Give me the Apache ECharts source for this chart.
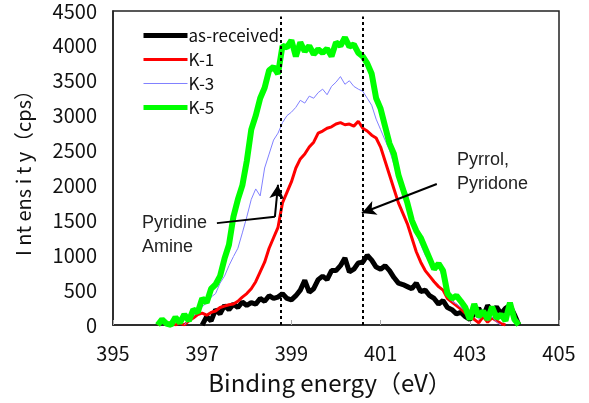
<!DOCTYPE html>
<html>
<head>
<meta charset="utf-8">
<script src="https://cdn.jsdelivr.net/npm/echarts@6/dist/echarts.min.js"></script>
<style>
  html, body { margin: 0; padding: 0; background: #fff; }
  #chart { width: 589px; height: 403px; }
</style>
</head>
<body>
<div id="chart"></div>
<script>
const energy = [
  396.0, 396.1, 396.2, 396.3, 396.4, 396.5, 396.6, 396.7, 396.8, 396.9,
  397.0, 397.1, 397.2, 397.3, 397.4, 397.5, 397.6, 397.7, 397.8, 397.9,
  398.0, 398.1, 398.2, 398.3, 398.4, 398.5, 398.6, 398.7, 398.8, 398.9,
  399.0, 399.1, 399.2, 399.3, 399.4, 399.5, 399.6, 399.7, 399.8, 399.9,
  400.0, 400.1, 400.2, 400.3, 400.4, 400.5, 400.6, 400.7, 400.8, 400.9,
  401.0, 401.1, 401.2, 401.3, 401.4, 401.5, 401.6, 401.7, 401.8, 401.9,
  402.0, 402.1, 402.2, 402.3, 402.4, 402.5, 402.6, 402.7, 402.8, 402.9,
  403.0, 403.1, 403.2, 403.3, 403.4, 403.5, 403.6, 403.7, 403.8, 403.9,
  404.0, 404.1
]

const asReceived = [
  null, null, null, null, null, null, null, null, null, null,
  0, 120, 60, 220, 160, 280, 220, 300, 250, 330,
  280, 320, 300, 380, 340, 420, 380, 400, 450, 380,
  360, 420, 500, 640, 470, 520, 650, 700, 650, 780,
  780, 850, 960, 760, 800, 890, 900, 1000, 930, 830,
  800, 850, 780, 680, 600, 580, 550, 520, 600, 480,
  500, 420, 380, 300, 350, 250, 220, 160, 180, 120,
  80, 160, 240, 120, 280, 180, 260, 160, 240, 280,
  150, 0
]
const k1 = [
  0, 60, 0, 40, 0, 30, 0, 60, 100, 150,
  170, 140, 180, 200, 250, 270, 290, 300, 340, 400,
  450, 520, 620, 760, 900, 1100, 1250, 1400, 1750, 1900,
  2050, 2250, 2380, 2450, 2550, 2620, 2750, 2780, 2820, 2840,
  2880, 2900, 2870, 2880, 2850, 2920, 2820, 2780, 2720, 2680,
  2550, 2350, 2150, 1950, 1750, 1600, 1450, 1250, 1050, 900,
  780, 700, 620, 550, 500, 380, 330, 280, 230, 170,
  120, 80, 30, 120, 40, 100, 60, 20, 0, null,
  null, null
]
const k3 = [
  null, null, null, null, null, null, 0, 80, 120, 200,
  260, 320, 400, 450, 600, 700, 850, 980, 1100, 1320,
  1550, 1800, 1950, 1850, 2250, 2450, 2650, 2750, 2900, 3000,
  3050, 3120, 3220, 3180, 3280, 3250, 3330, 3380, 3300, 3420,
  3480, 3560, 3450, 3500, 3420, 3380, 3350, 3250, 3150, 2950,
  2800, 2650, 2500, 2300, 2150, 2000, 1880, 1550, 1300, 1150,
  1000, 900, 780, 860, 650, 420, 340, 300, 250, 200,
  120, 180, 80, 140, 60, 120, 40, 0, null, null,
  null, null
]
const k5 = [
  0, 80, 20, 0, 110, 30, 150, 60, 220, 180,
  380, 320, 520, 580, 700, 950, 1150, 1550, 1800, 2000,
  2350, 2800, 3000, 3250, 3400, 3650, 3700, 3600, 4000, 3980,
  4080, 3850, 4050, 3920, 4000, 3880, 3950, 3900, 3960, 3850,
  4050, 4000, 4120, 3990, 4020, 3900, 3850, 3750, 3600, 3250,
  3100, 2850, 2600, 2450, 2150, 1950, 1750, 1500, 1350, 1250,
  1100, 950, 800, 880, 780, 450, 380, 420, 340, 250,
  80, 300, 120, 200, 80, 260, 100, 150, 60, 320,
  80, 0
]

const xTicks = [395, 397, 399, 401, 403, 405]
const peakLines = [398.75, 400.6]

const pairs = (ys) => energy.map((e, i) => [e, ys[i]])

const chart = echarts.init(document.getElementById('chart'))
chart.setOption({
  animation: false,
  grid: {
    left: 113,
    right: 30,
    top: 11,
    bottom: 78,
    show: true,
    borderColor: '#222',
    borderWidth: 1.5
  },
  legend: {
    orient: 'vertical',
    left: 136,
    top: 22,
    itemWidth: 44,
    itemHeight: 14,
    itemGap: 7,
    itemStyle: { opacity: 0 },
    textStyle: {
      fontFamily: 'Noto Sans CJK JP',
      fontSize: 17,
      color: '#111',
      padding: [8, 0, 0, -4]
    },
    data: [
      { name: 'as-received', lineStyle: { width: 5 } },
      { name: 'K-1', lineStyle: { width: 3 } },
      { name: 'K-3', lineStyle: { width: 1 } },
      { name: 'K-5', lineStyle: { width: 5 } }
    ]
  },
  xAxis: {
    type: 'value',
    min: 395,
    max: 405,
    name: 'Binding energy（eV）',
    nameLocation: 'middle',
    nameGap: 46,
    nameTextStyle: { fontFamily: 'Noto Sans CJK JP', fontSize: 24, color: '#111', padding: [0, 12, 0, 0] },
    splitLine: { show: false },
    axisLine: { lineStyle: { color: '#222', width: 1.5 } },
    axisTick: { inside: true, length: 5, customValues: xTicks, lineStyle: { color: '#aaa' } },
    axisLabel: {
      customValues: xTicks,
      margin: 18,
      fontFamily: 'Noto Sans CJK JP',
      fontSize: 20,
      color: '#111'
    }
  },
  yAxis: {
    type: 'value',
    min: 0,
    max: 4500,
    interval: 500,
    name: 'I nt ens i t y（cps）',
    nameLocation: 'middle',
    nameGap: 80,
    nameTextStyle: { fontFamily: 'Noto Sans CJK JP', fontSize: 20, color: '#111' },
    splitLine: { show: false },
    axisLine: { show: true, lineStyle: { color: '#222', width: 1.5 } },
    axisTick: { show: false },
    axisLabel: {
      margin: 16,
      formatter: (v) => String(v),
      padding: [14, 0, 0, 0],
      fontFamily: 'Noto Sans CJK JP',
      fontSize: 20,
      color: '#111'
    }
  },
  series: [
    {
      name: 'as-received',
      type: 'line',
      symbol: 'none',
      data: pairs(asReceived),
      lineStyle: { color: '#000', width: 5 },
      itemStyle: { color: '#000' }
    },
    {
      name: 'K-1',
      type: 'line',
      symbol: 'none',
      data: pairs(k1),
      lineStyle: { color: '#ff0000', width: 3 },
      itemStyle: { color: '#ff0000' }
    },
    {
      name: 'K-3',
      type: 'line',
      symbol: 'none',
      data: pairs(k3),
      lineStyle: { color: '#8080ff', width: 1 },
      itemStyle: { color: '#8080ff' }
    },
    {
      name: 'K-5',
      type: 'line',
      symbol: 'none',
      data: pairs(k5),
      lineStyle: { color: '#00ff00', width: 6 },
      itemStyle: { color: '#00ff00' },
      markLine: {
        silent: true,
        z: 10,
        label: { show: false },
        emphasis: { disabled: true },
        data: [
          [
            { coord: [peakLines[0], 0], symbol: 'none', lineStyle: { type: [3, 3], width: 2, color: '#000' } },
            { coord: [peakLines[0], 4420], symbol: 'none' }
          ],
          [
            { coord: [peakLines[1], 0], symbol: 'none', lineStyle: { type: [3, 3], width: 2, color: '#000' } },
            { coord: [peakLines[1], 4420], symbol: 'none' }
          ],
          [
            { coord: [397.33, 1460], symbol: 'none', lineStyle: { type: 'solid', width: 2, color: '#000' } },
            { coord: [398.63, 1550], symbol: 'none' }
          ],
          [
            { coord: [398.63, 1550], symbol: 'none', lineStyle: { type: 'solid', width: 2, color: '#000' } },
            { coord: [398.7, 2010], symbol: 'arrow', symbolSize: [11, 14] }
          ],
          [
            { coord: [402.26, 2020], symbol: 'none', lineStyle: { type: 'solid', width: 2, color: '#000' } },
            { coord: [400.58, 1605], symbol: 'arrow', symbolSize: [11, 14] }
          ]
        ]
      }
    }
  ],
  graphic: [
    {
      type: 'text',
      left: 142,
      top: 211,
      style: {
        text: 'Pyridine\nAmine',
        font: '18px "Liberation Sans"',
        lineHeight: 24,
        fill: '#222'
      }
    },
    {
      type: 'text',
      left: 457,
      top: 148,
      style: {
        text: 'Pyrrol,\nPyridone',
        font: '18px "Liberation Sans"',
        lineHeight: 24,
        fill: '#222'
      }
    }
  ]
})
</script>
</body>
</html>
